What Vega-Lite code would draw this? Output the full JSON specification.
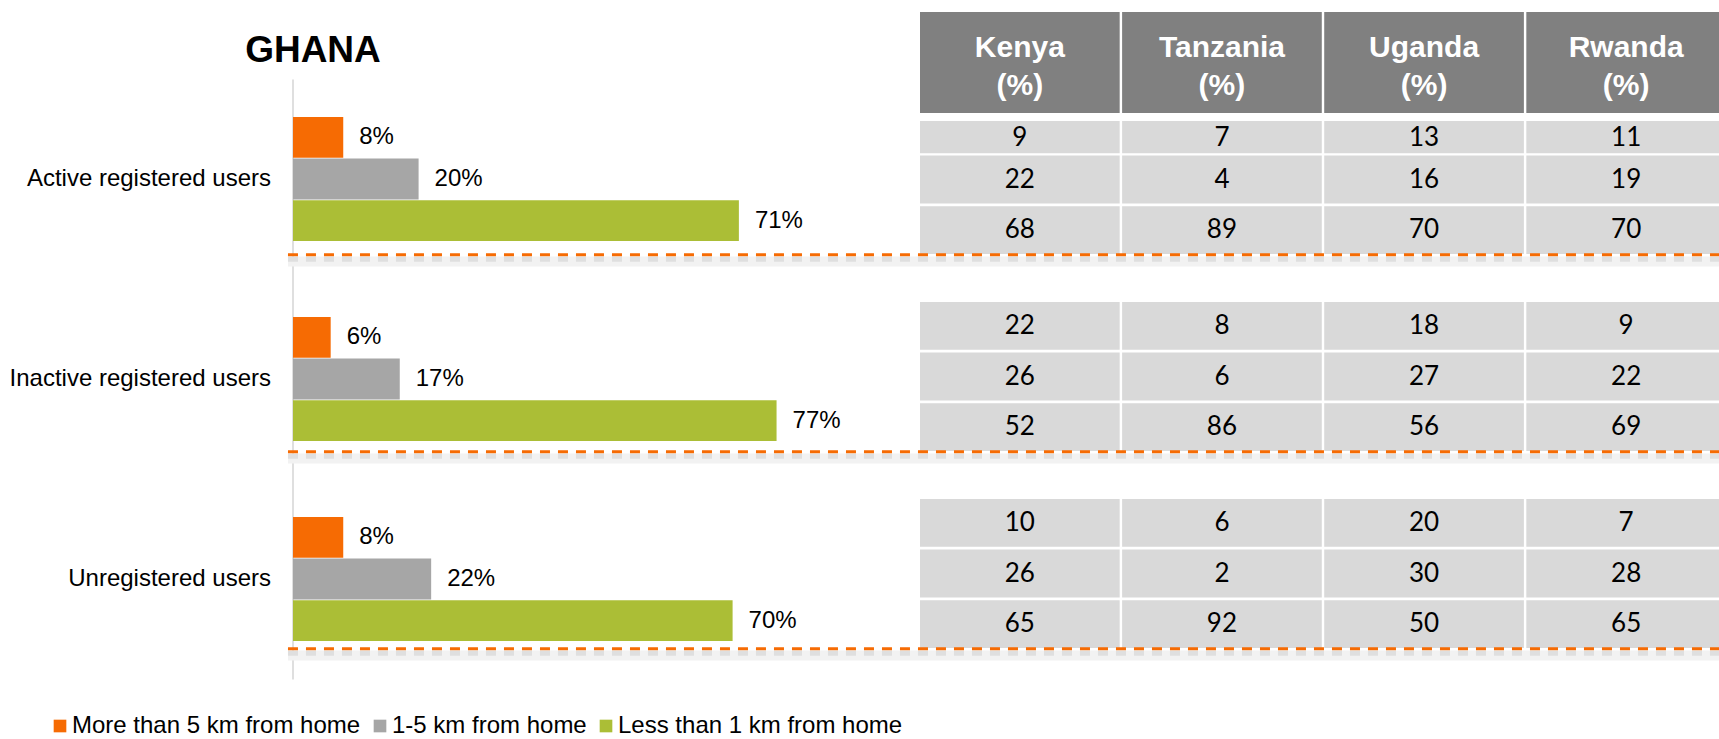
{
  "$schema": "https://vega.github.io/schema/vega-lite/v6.json",
  "width": 1719,
  "height": 739,
  "autosize": {"type": "none"},
  "padding": 0,
  "background": "white",
  "config": {"view": {"stroke": null}, "font": "Liberation Sans"},
  "datasets": {
    "ghana": [
      {"group": "Active registered users", "dist": "More than 5 km from home", "pct": 0.08},
      {"group": "Active registered users", "dist": "1-5 km from home", "pct": 0.20},
      {"group": "Active registered users", "dist": "Less than 1 km from home", "pct": 0.71},
      {"group": "Inactive registered users", "dist": "More than 5 km from home", "pct": 0.06},
      {"group": "Inactive registered users", "dist": "1-5 km from home", "pct": 0.17},
      {"group": "Inactive registered users", "dist": "Less than 1 km from home", "pct": 0.77},
      {"group": "Unregistered users", "dist": "More than 5 km from home", "pct": 0.08},
      {"group": "Unregistered users", "dist": "1-5 km from home", "pct": 0.22},
      {"group": "Unregistered users", "dist": "Less than 1 km from home", "pct": 0.70}
    ],
    "table": [
      {"group": "Active registered users", "dist": "More than 5 km from home", "country": "Kenya", "value": 9},
      {"group": "Active registered users", "dist": "More than 5 km from home", "country": "Tanzania", "value": 7},
      {"group": "Active registered users", "dist": "More than 5 km from home", "country": "Uganda", "value": 13},
      {"group": "Active registered users", "dist": "More than 5 km from home", "country": "Rwanda", "value": 11},
      {"group": "Active registered users", "dist": "1-5 km from home", "country": "Kenya", "value": 22},
      {"group": "Active registered users", "dist": "1-5 km from home", "country": "Tanzania", "value": 4},
      {"group": "Active registered users", "dist": "1-5 km from home", "country": "Uganda", "value": 16},
      {"group": "Active registered users", "dist": "1-5 km from home", "country": "Rwanda", "value": 19},
      {"group": "Active registered users", "dist": "Less than 1 km from home", "country": "Kenya", "value": 68},
      {"group": "Active registered users", "dist": "Less than 1 km from home", "country": "Tanzania", "value": 89},
      {"group": "Active registered users", "dist": "Less than 1 km from home", "country": "Uganda", "value": 70},
      {"group": "Active registered users", "dist": "Less than 1 km from home", "country": "Rwanda", "value": 70},
      {"group": "Inactive registered users", "dist": "More than 5 km from home", "country": "Kenya", "value": 22},
      {"group": "Inactive registered users", "dist": "More than 5 km from home", "country": "Tanzania", "value": 8},
      {"group": "Inactive registered users", "dist": "More than 5 km from home", "country": "Uganda", "value": 18},
      {"group": "Inactive registered users", "dist": "More than 5 km from home", "country": "Rwanda", "value": 9},
      {"group": "Inactive registered users", "dist": "1-5 km from home", "country": "Kenya", "value": 26},
      {"group": "Inactive registered users", "dist": "1-5 km from home", "country": "Tanzania", "value": 6},
      {"group": "Inactive registered users", "dist": "1-5 km from home", "country": "Uganda", "value": 27},
      {"group": "Inactive registered users", "dist": "1-5 km from home", "country": "Rwanda", "value": 22},
      {"group": "Inactive registered users", "dist": "Less than 1 km from home", "country": "Kenya", "value": 52},
      {"group": "Inactive registered users", "dist": "Less than 1 km from home", "country": "Tanzania", "value": 86},
      {"group": "Inactive registered users", "dist": "Less than 1 km from home", "country": "Uganda", "value": 56},
      {"group": "Inactive registered users", "dist": "Less than 1 km from home", "country": "Rwanda", "value": 69},
      {"group": "Unregistered users", "dist": "More than 5 km from home", "country": "Kenya", "value": 10},
      {"group": "Unregistered users", "dist": "More than 5 km from home", "country": "Tanzania", "value": 6},
      {"group": "Unregistered users", "dist": "More than 5 km from home", "country": "Uganda", "value": 20},
      {"group": "Unregistered users", "dist": "More than 5 km from home", "country": "Rwanda", "value": 7},
      {"group": "Unregistered users", "dist": "1-5 km from home", "country": "Kenya", "value": 26},
      {"group": "Unregistered users", "dist": "1-5 km from home", "country": "Tanzania", "value": 2},
      {"group": "Unregistered users", "dist": "1-5 km from home", "country": "Uganda", "value": 30},
      {"group": "Unregistered users", "dist": "1-5 km from home", "country": "Rwanda", "value": 28},
      {"group": "Unregistered users", "dist": "Less than 1 km from home", "country": "Kenya", "value": 65},
      {"group": "Unregistered users", "dist": "Less than 1 km from home", "country": "Tanzania", "value": 92},
      {"group": "Unregistered users", "dist": "Less than 1 km from home", "country": "Uganda", "value": 50},
      {"group": "Unregistered users", "dist": "Less than 1 km from home", "country": "Rwanda", "value": 65}
    ],
    "countries": [
      {"country": "Kenya", "label": "Kenya\n(%)"},
      {"country": "Tanzania", "label": "Tanzania\n(%)"},
      {"country": "Uganda", "label": "Uganda\n(%)"},
      {"country": "Rwanda", "label": "Rwanda\n(%)"}
    ],
    "groups": [
      {"group": "Active registered users"},
      {"group": "Inactive registered users"},
      {"group": "Unregistered users"}
    ],
    "heading": [{"title": "GHANA"}]
  },
  "layer": [
    {
      "layer": [
        {
          "data": {"name": "ghana"},
          "mark": {"type": "bar"},
          "encoding": {
            "x": {"field": "pct", "type": "quantitative", "scale": {"domain": [0, 1], "range": [293, 921]}, "axis": null},
            "y": {"field": "group", "type": "nominal", "sort": null,
                  "scale": {"type": "band", "domain": ["Active registered users", "Inactive registered users", "Unregistered users"], "range": [79, 679], "paddingInner": 0.38, "paddingOuter": 0.19},
                  "axis": {"title": null, "offset": -292.5, "ticks": false, "grid": false, "domain": true, "domainColor": "#d4d4d4", "domainWidth": 1.5, "labelFont": "Liberation Sans", "labelFontSize": 24, "labelColor": "#000000", "labelPadding": 22, "labelLimit": 0}},
            "yOffset": {"field": "dist", "type": "nominal", "sort": null,
                        "scale": {"type": "band", "domain": ["More than 5 km from home", "1-5 km from home", "Less than 1 km from home"], "paddingInner": 0.02, "paddingOuter": 0}},
            "color": {"field": "dist", "type": "nominal", "sort": null,
                      "scale": {"domain": ["More than 5 km from home", "1-5 km from home", "Less than 1 km from home"], "range": ["#F66B03", "#A6A6A6", "#ABBE36"]},
                      "legend": {"orient": "none", "legendX": 48, "legendY": 714, "direction": "horizontal", "title": null, "symbolType": "square", "symbolSize": 160, "symbolStrokeWidth": 0, "labelFont": "Liberation Sans", "labelFontSize": 24, "labelColor": "#000000", "labelOffset": 0, "columnPadding": 7, "labelLimit": 0}}
          }
        },
        {
          "data": {"name": "ghana"},
          "mark": {"type": "text", "align": "left", "baseline": "middle", "dx": 16, "font": "Liberation Sans", "fontSize": 24, "color": "#000000"},
          "encoding": {
            "x": {"field": "pct", "type": "quantitative"},
            "y": {"field": "group", "type": "nominal", "sort": null},
            "yOffset": {"field": "dist", "type": "nominal", "sort": null},
            "text": {"field": "pct", "type": "quantitative", "format": ".0%"}
          }
        },
        {
          "data": {"name": "heading"},
          "mark": {"type": "text", "align": "center", "baseline": "alphabetic", "font": "Liberation Sans", "fontWeight": "bold", "fontSize": 37, "color": "#000000"},
          "encoding": {
            "x": {"datum": 0.0318, "type": "quantitative"},
            "y": {"datum": "Active registered users", "type": "nominal", "bandPosition": -0.4435},
            "text": {"field": "title", "type": "nominal"}
          }
        }
      ]
    },
    {
      "data": {"name": "table"},
      "transform": [{"filter": "!(datum.group === 'Active registered users' && datum.dist === 'More than 5 km from home')"}],
      "encoding": {
        "x": {"field": "country", "type": "nominal", "sort": null, "scale": {"type": "band", "domain": ["Kenya", "Tanzania", "Uganda", "Rwanda"], "range": [920, 1726], "paddingInner": 0.012, "paddingOuter": 0}, "axis": null},
        "y": {"field": "group", "type": "nominal", "sort": null, "scale": {"type": "band", "domain": ["Active registered users", "Inactive registered users", "Unregistered users"], "range": [81, 672], "paddingInner": 0.244, "paddingOuter": 0.122}, "axis": null},
        "yOffset": {"field": "dist", "type": "nominal", "sort": null, "scale": {"type": "band", "domain": ["More than 5 km from home", "1-5 km from home", "Less than 1 km from home"], "paddingInner": 0.055, "paddingOuter": 0}}
      },
      "layer": [
        {"mark": {"type": "rect", "fill": "#D9D9D9"}},
        {"mark": {"type": "text", "align": "center", "baseline": "middle", "font": "Lato", "fontSize": 26, "color": "#000000"},
         "encoding": {"text": {"field": "value", "type": "quantitative"}}}
      ]
    },
    {
      "data": {"name": "table"},
      "transform": [{"filter": "datum.group === 'Active registered users' && datum.dist === 'More than 5 km from home'"}],
      "encoding": {
        "x": {"field": "country", "type": "nominal", "sort": null, "scale": {"type": "band", "domain": ["Kenya", "Tanzania", "Uganda", "Rwanda"], "range": [920, 1726], "paddingInner": 0.012, "paddingOuter": 0}, "axis": null},
        "y": {"field": "group", "type": "nominal", "scale": {"type": "band", "domain": ["Active registered users"], "range": [121, 153.3], "paddingInner": 0, "paddingOuter": 0}, "axis": null}
      },
      "layer": [
        {"mark": {"type": "rect", "fill": "#D9D9D9"}},
        {"mark": {"type": "text", "align": "center", "baseline": "middle", "dy": 1, "font": "Lato", "fontSize": 26, "color": "#000000"},
         "encoding": {"text": {"field": "value", "type": "quantitative"}}}
      ]
    },
    {
      "data": {"name": "countries"},
      "encoding": {
        "x": {"field": "country", "type": "nominal", "sort": null, "scale": {"type": "band", "domain": ["Kenya", "Tanzania", "Uganda", "Rwanda"], "range": [920, 1726], "paddingInner": 0.012, "paddingOuter": 0}, "axis": null},
        "y": {"datum": "header", "type": "nominal", "scale": {"type": "band", "domain": ["header"], "range": [12, 113], "paddingInner": 0, "paddingOuter": 0}, "axis": null}
      },
      "layer": [
        {"mark": {"type": "rect", "fill": "#808080"}},
        {"mark": {"type": "text", "align": "center", "baseline": "alphabetic", "lineBreak": "\n", "lineHeight": 38, "dy": -5.5, "font": "Liberation Sans", "fontWeight": "bold", "fontSize": 30, "color": "#FFFFFF"},
         "encoding": {"text": {"field": "label", "type": "nominal"}}}
      ]
    },
    {
      "data": {"name": "groups"},
      "layer": [
        {
          "mark": {"type": "rule", "color": "#F2F2F2", "strokeWidth": 10},
          "encoding": {
            "x": {"datum": -0.008, "type": "quantitative", "scale": {"domain": [0, 1], "range": [293, 921]}, "axis": null},
            "x2": {"datum": 2.2707},
            "y": {"field": "group", "type": "nominal", "sort": null, "bandPosition": 1.05, "scale": {"type": "band", "domain": ["Active registered users", "Inactive registered users", "Unregistered users"], "range": [81, 672], "paddingInner": 0.244, "paddingOuter": 0.122}, "axis": null}
          }
        },
        {
          "mark": {"type": "rule", "color": "#DFDFDF", "strokeWidth": 5, "strokeDash": [10, 8]},
          "encoding": {
            "x": {"datum": -0.008, "type": "quantitative"},
            "x2": {"datum": 2.2707},
            "y": {"field": "group", "type": "nominal", "sort": null, "bandPosition": 1.035}
          }
        },
        {
          "mark": {"type": "rule", "color": "#F66B03", "strokeWidth": 3, "strokeDash": [10, 8]},
          "encoding": {
            "x": {"datum": -0.008, "type": "quantitative"},
            "x2": {"datum": 2.2707},
            "y": {"field": "group", "type": "nominal", "sort": null, "bandPosition": 1.006}
          }
        }
      ]
    }
  ],
  "resolve": {
    "scale": {"x": "independent", "y": "independent", "yOffset": "independent"},
    "axis": {"x": "independent", "y": "independent"}
  }
}
